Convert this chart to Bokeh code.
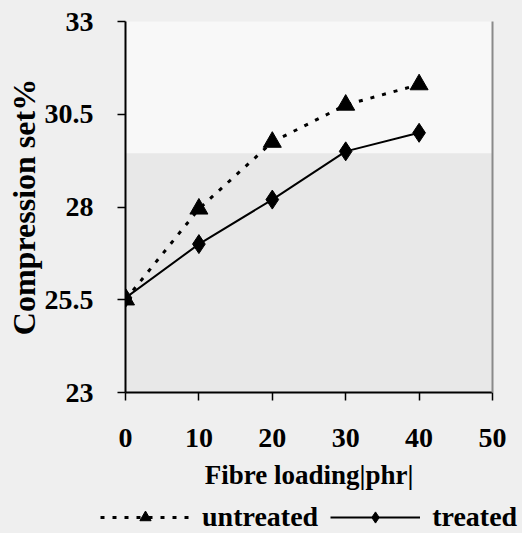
from bokeh.plotting import figure
from bokeh.layouts import column
from bokeh.models import Range1d, FixedTicker, LinearAxis, Legend, LegendItem, BoxAnnotation
from bokeh.embed import file_html
from bokeh.resources import INLINE

# ---- data ----
fibre_loading = [0, 10, 20, 30, 40]
untreated = [25.5, 27.95, 29.75, 30.75, 31.3]
treated = [25.55, 27.0, 28.2, 29.5, 30.0]
x_ticks = [0, 10, 20, 30, 40, 50]
y_ticks = [23, 25.5, 28, 30.5, 33]
series_names = ["untreated", "treated"]

FONT = "Liberation Serif"
PAGE_BG = "#efefef"

p = figure(width=522, height=495, x_range=Range1d(0, 50), y_range=Range1d(23, 33),
           output_backend="svg", toolbar_location=None,
           min_border_left=125, min_border_right=30, min_border_top=21, min_border_bottom=103)

p.background_fill_color = "#f8f8f8"
p.border_fill_color = PAGE_BG
p.outline_line_color = None
p.xgrid.visible = False
p.ygrid.visible = False

# scanned-paper shading of the lower part of the plot area
p.add_layout(BoxAnnotation(top=29.45, fill_color="#e8e8e8", fill_alpha=1.0,
                           line_color=None, level="underlay"))

UNTREATED_LINE = dict(line_color="black", line_width=3, line_dash="4 8")
TREATED_LINE = dict(line_color="black", line_width=2)
UNTREATED_MARK = dict(marker="triangle", size=18, color="black")
TREATED_MARK = dict(marker="diamond", size=19, color="black")

p.line(fibre_loading, untreated, **UNTREATED_LINE)
p.scatter(fibre_loading, untreated, **UNTREATED_MARK)
p.line(fibre_loading, treated, **TREATED_LINE)
p.scatter(fibre_loading, treated, **TREATED_MARK)

for ax in (p.xaxis[0], p.yaxis[0]):
    ax.axis_line_color = "black"
    ax.axis_line_width = 2
    ax.major_tick_line_color = "black"
    ax.major_tick_line_width = 1.5
    ax.major_tick_in = 0
    ax.major_tick_out = 8
    ax.minor_tick_line_color = None
    ax.major_label_text_font = FONT
    ax.major_label_text_font_style = "bold"
    ax.major_label_text_font_size = "28px"
    ax.major_label_text_color = "black"
    ax.axis_label_text_font = FONT
    ax.axis_label_text_font_style = "bold"
    ax.axis_label_text_color = "black"

p.xaxis[0].ticker = FixedTicker(ticks=x_ticks)
p.yaxis[0].ticker = FixedTicker(ticks=y_ticks)
p.xaxis[0].major_label_standoff = 28
p.yaxis[0].major_label_standoff = 24
p.xaxis[0].axis_label = "Fibre loading|phr|"
p.yaxis[0].axis_label = "Compression set%"
p.xaxis[0].axis_label_text_font_size = "27px"
p.yaxis[0].axis_label_text_font_size = "32px"
p.xaxis[0].axis_label_standoff = 10
p.yaxis[0].axis_label_standoff = 0

right = LinearAxis(ticker=FixedTicker(ticks=[]), axis_line_color="#8a8a8a", axis_line_width=2,
                   major_tick_line_color=None, minor_tick_line_color=None)
p.add_layout(right, "right")

# ---- legend strip below the chart ----
lg = figure(width=522, height=38, x_range=Range1d(100, 101), y_range=Range1d(100, 101),
            output_backend="svg", toolbar_location=None,
            x_axis_type=None, y_axis_type=None, min_border=0)
lg.background_fill_color = PAGE_BG
lg.border_fill_color = PAGE_BG
lg.outline_line_color = None
lg.xgrid.visible = False
lg.ygrid.visible = False

for fig in (p, lg):
    try:
        fig.frame_align = False
    except AttributeError:
        pass

# series repeated here only to feed the legend samples (they fall outside this strip's range)
r1 = lg.line(fibre_loading, untreated, **UNTREATED_LINE)
m1 = lg.scatter(fibre_loading, untreated, **UNTREATED_MARK)
r2 = lg.line(fibre_loading, treated, **TREATED_LINE)
m2 = lg.scatter(fibre_loading, treated, **TREATED_MARK)

legend = Legend(items=[LegendItem(label=series_names[0], renderers=[r1, m1]),
                       LegendItem(label=series_names[1], renderers=[r2, m2])],
                orientation="horizontal", location=(100, 0),
                glyph_width=90, glyph_height=28, label_standoff=12, spacing=12,
                label_text_font=FONT, label_text_font_style="bold", label_text_font_size="28px",
                label_text_color="black",
                background_fill_alpha=0, border_line_color=None, padding=0, margin=0)
lg.add_layout(legend, "center")

layout = column(p, lg, spacing=0, styles={"background-color": PAGE_BG})
open("out.html", "w").write(file_html(layout, INLINE))
